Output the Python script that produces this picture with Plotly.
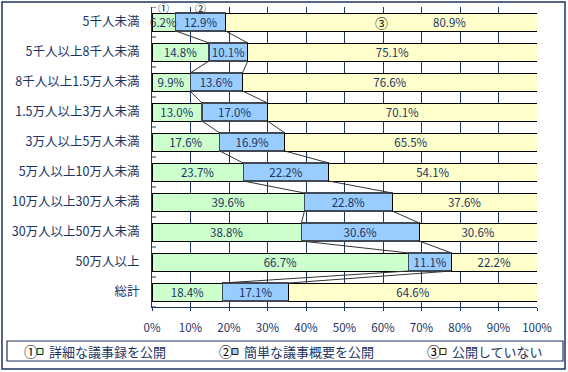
import plotly.graph_objects as go

categories = ["5千人未満", "5千人以上8千人未満", "8千人以上1.5万人未満", "1.5万人以上3万人未満",
              "3万人以上5万人未満", "5万人以上10万人未満", "10万人以上30万人未満",
              "30万人以上50万人未満", "50万人以上", "総計"]
detailed = [6.2, 14.8, 9.9, 13.0, 17.6, 23.7, 39.6, 38.8, 66.7, 18.4]
summary = [12.9, 10.1, 13.6, 17.0, 16.9, 22.2, 22.8, 30.6, 11.1, 17.1]
none_pub = [80.9, 75.1, 76.6, 70.1, 65.5, 54.1, 37.6, 30.6, 22.2, 64.6]
series_names = ["詳細な議事録を公開", "簡単な議事概要を公開", "公開していない"]
series_marks = ["①", "②", "③"]
x_ticks = [0, 10, 20, 30, 40, 50, 60, 70, 80, 90, 100]

NAVY = "#1B3461"
FONT = "Noto Sans CJK JP"
colors = ["#CCFFCC", "#99CCFF", "#FFFFCC"]
edges = ["#000000", "#404a55", "#000000"]

W, H = 568, 372
ML, MR, MT, MB = 152, 31, 7, 65
PW, PH = W - ML - MR, H - MT - MB


def px(x):
    return (x - ML) / PW


def py(y):
    return (H - MB - y) / PH


n = len(categories)
idx = list(range(n))
BW = 0.6

fig = go.Figure()

# series lines between bars
c1 = detailed
c2 = [a + b for a, b in zip(detailed, summary)]
lx, ly = [], []
for cum in (c1, c2):
    for i in range(n - 1):
        lx += [cum[i], cum[i + 1], None]
        ly += [i + BW / 2, i + 1 - BW / 2, None]
fig.add_trace(go.Scatter(x=lx, y=ly, mode="lines", line=dict(color="#333333", width=1),
                         hoverinfo="skip", showlegend=False))

all_series = [detailed, summary, none_pub]
for s, (vals, name) in enumerate(zip(all_series, series_names)):
    texts = [f"{v:.1f}%" for v in vals]
    if s in (0, 2):
        texts[0] = ""
    fig.add_trace(go.Bar(
        y=idx, x=vals, orientation="h", width=BW, name=name,
        marker=dict(color=colors[s], line=dict(color=edges[s], width=1.2 if s == 1 else 1)),
        text=texts, texttemplate="%{text}", textposition="inside",
        insidetextanchor="middle", constraintext="none",
        textfont=dict(family=FONT, size=11.5, color=NAVY),
        hoverinfo="skip", showlegend=False,
    ))

annotations = []
# first-row labels placed as annotations (narrow bar / room for ③)
annotations.append(dict(x=detailed[0] / 2, y=0, xref="x", yref="y",
                        text=f"{detailed[0]:.1f}%", showarrow=False, yanchor="middle",
                        font=dict(family=FONT, size=11.5, color=NAVY)))
annotations.append(dict(x=c2[0] + none_pub[0] * 0.72, y=0, xref="x", yref="y",
                        text=f"{none_pub[0]:.1f}%", showarrow=False, yanchor="middle",
                        font=dict(family=FONT, size=11.5, color=NAVY)))
# circled markers
annotations.append(dict(x=detailed[0] / 2, y=py(7.5), xref="x", yref="paper", text="①",
                        showarrow=False, yanchor="middle",
                        font=dict(family=FONT, size=11, color="#000000")))
annotations.append(dict(x=detailed[0] + summary[0] / 2, y=py(7.5), xref="x", yref="paper", text="②",
                        showarrow=False, yanchor="middle",
                        font=dict(family=FONT, size=11, color="#000000")))
annotations.append(dict(x=c2[0] + none_pub[0] / 2, y=0, xref="x", yref="y", text="③",
                        showarrow=False, yanchor="middle",
                        font=dict(family=FONT, size=13, color="#000000")))

shapes = []
# inside tick marks at category boundaries
for i in range(n + 1):
    shapes.append(dict(type="line", xref="paper", yref="y", x0=0, x1=4 / PW,
                       y0=i - 0.5, y1=i - 0.5, line=dict(color=NAVY, width=1)))
# outer frame
shapes.append(dict(type="rect", xref="paper", yref="paper", x0=px(2), x1=px(565),
                   y0=py(369), y1=py(2), line=dict(color=NAVY, width=1.5)))
# legend box
shapes.append(dict(type="rect", xref="paper", yref="paper", x0=px(7), x1=px(563),
                   y0=py(361), y1=py(341), line=dict(color=NAVY, width=1.2)))

leg_x = [31, 226, 434]
for s in range(3):
    cx = leg_x[s]
    annotations.append(dict(x=px(cx), y=py(351), xref="paper", yref="paper", text=series_marks[s],
                            showarrow=False, xanchor="center", yanchor="middle",
                            font=dict(family=FONT, size=13.5, color="#000000")))
    shapes.append(dict(type="rect", xref="paper", yref="paper", x0=px(cx + 6), x1=px(cx + 12),
                       y0=py(354.5), y1=py(348.5), fillcolor=colors[s],
                       line=dict(color="#222222", width=1)))
    annotations.append(dict(x=px(cx + 16), y=py(351), xref="paper", yref="paper", text=series_names[s],
                            showarrow=False, xanchor="left", yanchor="middle",
                            font=dict(family=FONT, size=13, color=NAVY)))

fig.update_layout(
    width=W, height=H, margin=dict(l=ML, r=MR, t=MT, b=MB),
    paper_bgcolor="white", plot_bgcolor="white",
    barmode="stack", bargap=0.4,
    font=dict(family=FONT, color=NAVY),
    showlegend=False,
    annotations=annotations, shapes=shapes,
)
fig.update_xaxes(range=[0, 100], tickvals=x_ticks, ticktext=[f"{t}%" for t in x_ticks],
                 showgrid=True, gridcolor=NAVY, gridwidth=1, zeroline=False,
                 showline=True, linecolor=NAVY, linewidth=1,
                 ticks="outside", ticklen=3, tickcolor=NAVY,
                 ticklabelstandoff=7, tickfont=dict(family=FONT, size=11.5, color=NAVY),
                 fixedrange=True)
fig.update_yaxes(range=[n - 0.5, -0.5], tickvals=idx, ticktext=categories,
                 showgrid=False, zeroline=False, showline=True, linecolor=NAVY, linewidth=1,
                 ticks="", ticklabelstandoff=9,
                 tickfont=dict(family=FONT, size=12.5, color=NAVY), fixedrange=True)

fig.write_html("out.html", config={"displayModeBar": False},
               post_script="document.body.style.margin='0';document.body.style.overflow='hidden';")
